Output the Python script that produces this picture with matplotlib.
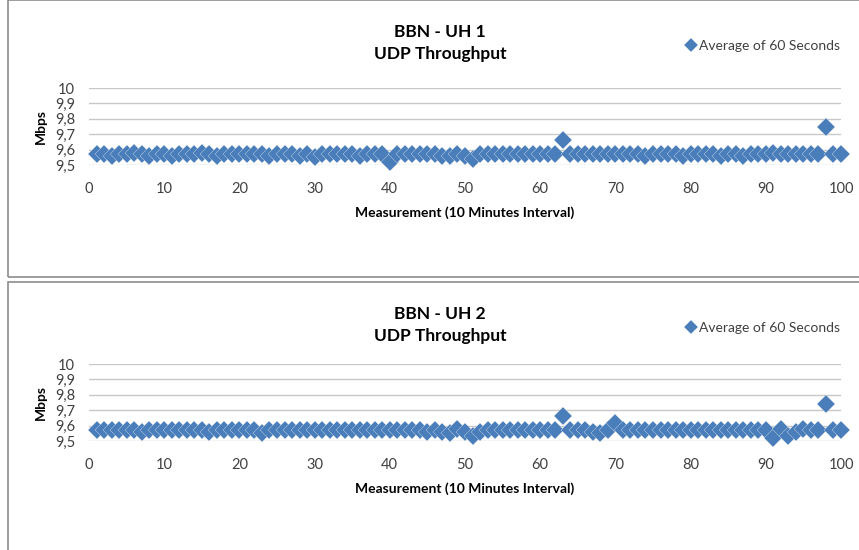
import matplotlib
matplotlib.use('Agg')
import matplotlib.pyplot as plt
from matplotlib.patches import Rectangle
from matplotlib.ticker import FuncFormatter

plt.rcParams['font.family'] = ['Lato', 'DejaVu Sans']

measurements = list(range(1, 101))

uh1 = [9.57, 9.57, 9.56, 9.57, 9.57, 9.58, 9.57, 9.56, 9.57, 9.57,
       9.56, 9.57, 9.57, 9.57, 9.58, 9.57, 9.56, 9.57, 9.57, 9.57,
       9.57, 9.57, 9.57, 9.56, 9.57, 9.57, 9.57, 9.56, 9.57, 9.55,
       9.57, 9.57, 9.57, 9.57, 9.57, 9.56, 9.57, 9.57, 9.57, 9.52,
       9.57, 9.57, 9.57, 9.57, 9.57, 9.57, 9.56, 9.56, 9.57, 9.56,
       9.54, 9.57, 9.57, 9.57, 9.57, 9.57, 9.57, 9.57, 9.57, 9.57,
       9.57, 9.57, 9.66, 9.57, 9.57, 9.57, 9.57, 9.57, 9.57, 9.57,
       9.57, 9.57, 9.57, 9.56, 9.57, 9.57, 9.57, 9.57, 9.56, 9.57,
       9.57, 9.57, 9.57, 9.56, 9.57, 9.57, 9.56, 9.57, 9.57, 9.57,
       9.58, 9.57, 9.57, 9.57, 9.57, 9.57, 9.57, 9.75, 9.57, 9.57]

uh2 = [9.57, 9.57, 9.57, 9.57, 9.57, 9.57, 9.56, 9.57, 9.57, 9.57,
       9.57, 9.57, 9.57, 9.57, 9.57, 9.56, 9.57, 9.57, 9.57, 9.57,
       9.57, 9.57, 9.55, 9.57, 9.57, 9.57, 9.57, 9.57, 9.57, 9.57,
       9.57, 9.57, 9.57, 9.57, 9.57, 9.57, 9.57, 9.57, 9.57, 9.57,
       9.57, 9.57, 9.57, 9.57, 9.56, 9.57, 9.56, 9.55, 9.58, 9.56,
       9.53, 9.56, 9.57, 9.57, 9.57, 9.57, 9.57, 9.57, 9.57, 9.57,
       9.57, 9.57, 9.66, 9.57, 9.57, 9.57, 9.56, 9.55, 9.57, 9.62,
       9.57, 9.57, 9.57, 9.57, 9.57, 9.57, 9.57, 9.57, 9.57, 9.57,
       9.57, 9.57, 9.57, 9.57, 9.57, 9.57, 9.57, 9.57, 9.57, 9.57,
       9.52, 9.58, 9.53, 9.56, 9.58, 9.57, 9.57, 9.74, 9.57, 9.57]

titles = ['BBN - UH 1\nUDP Throughput', 'BBN - UH 2\nUDP Throughput']
series = [uh1, uh2]
yticks = [9.5, 9.6, 9.7, 9.8, 9.9, 10.0]
xticks = list(range(0, 101, 10))
blue = '#4A7EBB'

W, H = 859, 550
fig = plt.figure(figsize=(W / 100, H / 100), dpi=100)

# panel geometry in pixels: (panel top, panel bottom, axis top, axis bottom)
panels = [(0, 277, 88, 165), (282, 551, 364, 441)]

def comma(v, pos):
    s = '%g' % v
    return s.replace('.', ',')

for (ptop, pbot, atop, abot), title, vals in zip(panels, titles, series):
    fig.patches.append(Rectangle((8 / W, 1 - pbot / H), 1.0, (pbot - ptop) / H,
                                 transform=fig.transFigure, fill=False,
                                 edgecolor='#8c8c8c', lw=1.2))
    ax = fig.add_axes([89 / W, 1 - abot / H, (841 - 89) / W, (abot - atop) / H])
    ax.plot(measurements, vals, 'D', color=blue, markersize=9.5,
            markeredgecolor='#dfe7f2', markeredgewidth=0.25,
            label='Average of 60 Seconds', clip_on=False, zorder=3)
    ax.set_xlim(0, 100)
    ax.set_ylim(9.5, 10.0)
    ax.set_xticks(xticks)
    ax.set_yticks(yticks)
    ax.yaxis.set_major_formatter(FuncFormatter(comma))
    ax.grid(axis='y', color='#c8c8c8', lw=1)
    ax.set_axisbelow(True)
    for sp in ax.spines.values():
        sp.set_visible(False)
    ax.tick_params(length=0, labelsize=10.5, colors='#404040')
    ax.tick_params(axis='x', pad=12)
    ax.tick_params(axis='y', pad=10)
    ax.set_xlabel('Measurement (10 Minutes Interval)', fontsize=10,
                  fontweight='bold', labelpad=8)
    ax.set_ylabel('Mbps', fontsize=10, fontweight='bold', labelpad=6)
    fig.text(440 / W, 1 - (ptop + 43) / H, title, ha='center', va='center',
             fontsize=12.5, fontweight='bold', linespacing=1.5)
    ax.legend(loc='center left', bbox_to_anchor=(674 / W, 1 - (ptop + 46) / H),
              bbox_transform=fig.transFigure, frameon=False, fontsize=10,
              handlelength=0.6, handletextpad=0.3, markerscale=0.7,
              labelcolor='#404040')

fig.savefig('out.png', dpi=100)
